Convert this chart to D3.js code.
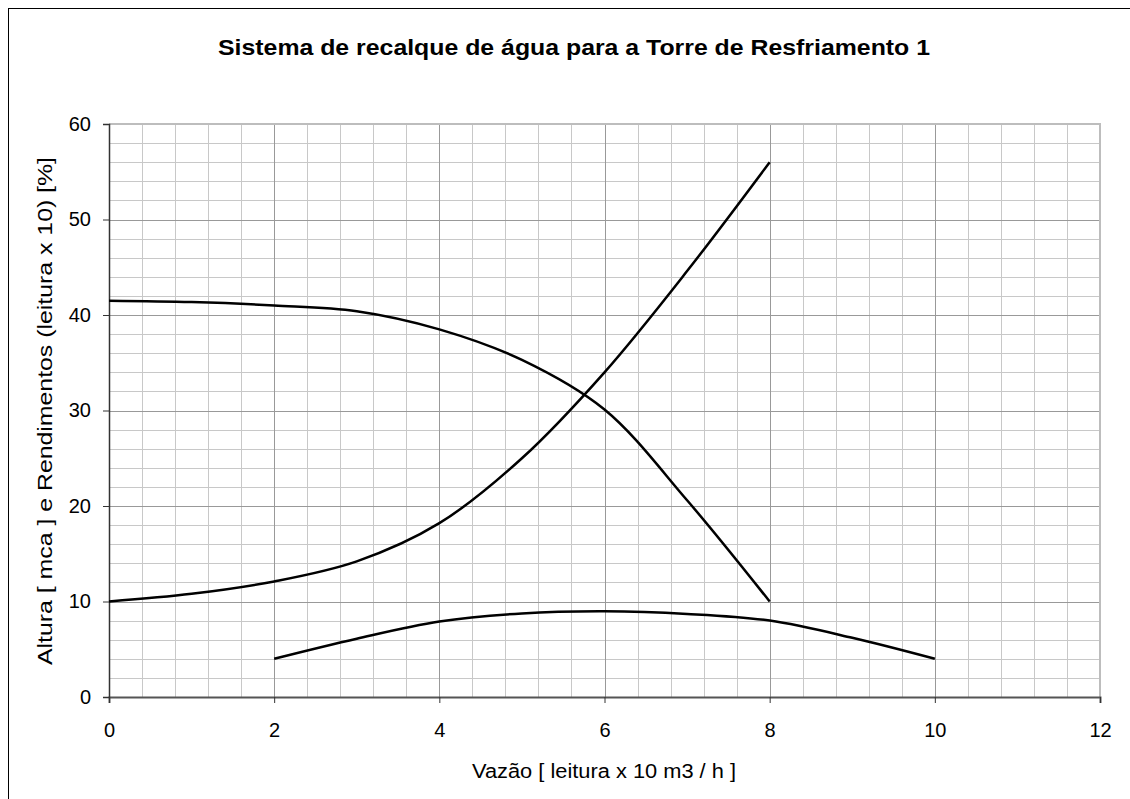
<!DOCTYPE html>
<html>
<head>
<meta charset="utf-8">
<script src="https://cdn.jsdelivr.net/npm/d3@7/dist/d3.min.js"></script>
<style>
  body { margin: 0; background: #fff; }
  text { font-family: "Liberation Sans", Arial, sans-serif; fill: #000; }
</style>
</head>
<body>
<div id="chart"></div>
<script>
// Data
const titleText = "Sistema de recalque de água para a Torre de Resfriamento 1";
const xLabel = "Vazão [ leitura x 10 m3 / h ]";
const yLabel = "Altura [ mca ] e Rendimentos (leitura x 10) [%]";

const xTicks = [0, 2, 4, 6, 8, 10, 12];
const yTicks = [0, 10, 20, 30, 40, 50, 60];

// altura (descending curve)
const alturaX = [0, 1, 2, 3, 4, 5, 6, 7, 8];
const alturaY = [41.5, 41.35, 41.0, 40.4, 38.5, 35.3, 30.1, 20.6, 10];

// system curve (ascending)
const sistemaX = [0, 1, 2, 3, 4, 5, 6, 7, 8];
const sistemaY = [10, 10.8, 12.1, 14.2, 18.2, 25.0, 34.0, 44.6, 56];

// rendimento (bottom arc)
const rendX = [2, 3, 4, 5, 6, 7, 8, 9, 10];
const rendY = [4, 6.1, 7.9, 8.75, 8.97, 8.7, 8.0, 6.2, 4];

const width = 1130;
const height = 799;
const margin = { left: 109, right: 30, top: 124, bottom: 102 };

const svg = d3
  .select("#chart")
  .append("svg")
  .attr("width", width)
  .attr("height", height);

// outer frame
svg
  .append("rect")
  .attr("x", 8.5)
  .attr("y", 8.5)
  .attr("width", 1130)
  .attr("height", 800)
  .attr("fill", "none")
  .attr("stroke", "#000")
  .attr("stroke-width", 1);

const x = d3.scaleLinear().domain([0, 12]).range([margin.left, 1100]);
const y = d3.scaleLinear().domain([0, 60]).range([697, margin.top]);

// grid - minor
const grid = svg.append("g");
grid
  .selectAll("line.vminor")
  .data(d3.range(0, 12.01, 0.4))
  .enter()
  .append("line")
  .attr("x1", (d) => Math.round(x(d)) + 0.5)
  .attr("x2", (d) => Math.round(x(d)) + 0.5)
  .attr("y1", y(60))
  .attr("y2", y(0))
  .attr("stroke", "#c8c8c8")
  .attr("stroke-width", 1);
grid
  .selectAll("line.hminor")
  .data(d3.range(0, 60.01, 2))
  .enter()
  .append("line")
  .attr("y1", (d) => Math.round(y(d)) + 0.5)
  .attr("y2", (d) => Math.round(y(d)) + 0.5)
  .attr("x1", x(0))
  .attr("x2", x(12))
  .attr("stroke", "#c8c8c8")
  .attr("stroke-width", 1);
// grid - major
grid
  .selectAll("line.vmajor")
  .data(xTicks.slice(1, -1))
  .enter()
  .append("line")
  .attr("x1", (d) => Math.round(x(d)) + 0.5)
  .attr("x2", (d) => Math.round(x(d)) + 0.5)
  .attr("y1", y(60))
  .attr("y2", y(0))
  .attr("stroke", "#999")
  .attr("stroke-width", 1);
grid
  .selectAll("line.hmajor")
  .data(yTicks.slice(1, -1))
  .enter()
  .append("line")
  .attr("y1", (d) => Math.round(y(d)) + 0.5)
  .attr("y2", (d) => Math.round(y(d)) + 0.5)
  .attr("x1", x(0))
  .attr("x2", x(12))
  .attr("stroke", "#999")
  .attr("stroke-width", 1);

// plot border (top & right)
svg
  .append("path")
  .attr("d", `M${x(0)},${y(60)}H${x(12)}V${y(0)}`)
  .attr("fill", "none")
  .attr("stroke", "#bdbdbd")
  .attr("stroke-width", 2);

// axes
const xAxis = d3
  .axisBottom(x)
  .tickValues(xTicks)
  .tickSize(6)
  .tickPadding(20);
const gx = svg
  .append("g")
  .attr("transform", `translate(0,${y(0)})`)
  .call(xAxis);
gx.attr("font-size", null).attr("font-family", null);
gx.select(".domain").attr("stroke", "#555").attr("stroke-width", 2);
gx.selectAll(".tick line").attr("stroke", "#333");
gx.selectAll("text").style("font-size", "20px");

const yAxis = d3.axisLeft(y).tickValues(yTicks).tickSize(6).tickPadding(12);
const gy = svg
  .append("g")
  .attr("transform", `translate(${x(0)},0)`)
  .call(yAxis);
gy.attr("font-size", null).attr("font-family", null);
gy.select(".domain").attr("stroke", "#333").attr("stroke-width", 1.5);
gy.selectAll(".tick line").attr("stroke", "#333");
gy.selectAll("text").style("font-size", "20px");

// curves
const line = d3
  .line()
  .x((d) => x(d[0]))
  .y((d) => y(d[1]))
  .curve(d3.curveCatmullRom.alpha(0.5));

const series = [
  d3.zip(alturaX, alturaY),
  d3.zip(sistemaX, sistemaY),
  d3.zip(rendX, rendY),
];
svg
  .selectAll("path.curve")
  .data(series)
  .enter()
  .append("path")
  .attr("class", "curve")
  .attr("d", line)
  .attr("fill", "none")
  .attr("stroke", "#000")
  .attr("stroke-width", 2.5);

// titles
svg
  .append("text")
  .attr("x", 574)
  .attr("y", 55)
  .attr("text-anchor", "middle")
  .style("font-size", "22px")
  .attr("font-weight", "bold")
  .attr("textLength", 712)
  .attr("lengthAdjust", "spacingAndGlyphs")
  .text(titleText);

svg
  .append("text")
  .attr("x", 604)
  .attr("y", 778)
  .attr("text-anchor", "middle")
  .style("font-size", "20px")
  .attr("textLength", 264)
  .attr("lengthAdjust", "spacingAndGlyphs")
  .text(xLabel);

svg
  .append("text")
  .attr("transform", "translate(52,411) rotate(-90)")
  .attr("text-anchor", "middle")
  .style("font-size", "20px")
  .attr("textLength", 508)
  .attr("lengthAdjust", "spacingAndGlyphs")
  .text(yLabel);
</script>
</body>
</html>
